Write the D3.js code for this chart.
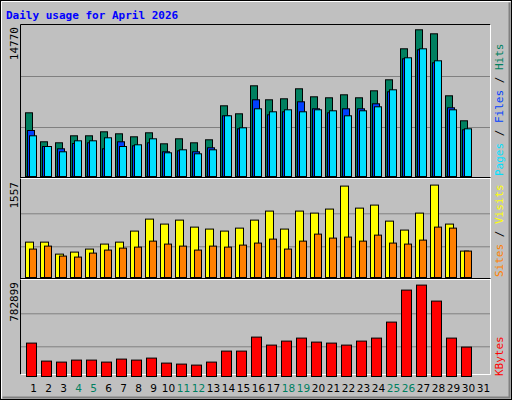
<!DOCTYPE html>
<html><head><meta charset="utf-8">
<script src="https://cdn.jsdelivr.net/npm/d3@7"></script>
<style>body{margin:0;background:#fff}svg{display:block}</style>
</head><body>
<script>
const days = d3.range(1,32);
const weekendDays = [4,5,11,12,18,19,25,26];
const hits  = [6413,3494,3393,4098,4098,4500,4299,3997,4400,3292,3796,3393,3695,7118,6313,9132,7722,7823,8830,8024,7924,8226,7924,8628,9736,12857,14770,14367,8125,5608];
const files = [4631,3020,2789,3322,3393,2789,3494,3091,3393,2487,2587,2487,2890,6111,4802,7722,6212,6514,7521,6816,6413,6816,6816,7319,8528,11850,12756,11447,6917,4702];
const pages = [4098,3020,2487,3594,3594,3896,3020,3192,3796,2386,2688,2285,2688,6111,4903,6816,6514,6715,6514,6715,6615,6111,6615,7017,8729,11951,12857,11649,6715,4802];
const visits= [596,596,394,428,479,563,596,782,984,900,967,849,816,782,832,967,1119,816,1119,1085,1153,1540,1169,1220,950,799,1085,1557,900,445];
const sites = [479,529,361,344,411,462,495,512,613,563,529,462,529,512,546,580,647,479,613,731,664,681,613,714,580,563,630,849,832,445];
const kbytes= [286091,131910,123345,140476,140476,123345,149041,140476,157607,114779,106213,97648,123345,217566,217566,337485,268960,303222,328919,294657,286091,268960,303222,328919,465969,740068,782899,645846,328919,251829];
const maxLabels = ["14770","1557","782899"];

const W=512,H=400;
const svg=d3.select("body").append("svg").attr("width",W).attr("height",H);
svg.append("rect").attr("width",W).attr("height",H).attr("fill","#c0c0c0");
// outer bevel
svg.append("rect").attr("x",0.5).attr("y",0.5).attr("width",W-1).attr("height",H-1).attr("fill","none").attr("stroke","#000");
svg.append("path").attr("d","M1.5,398.5V1.5H510.5").attr("stroke","#fff").attr("fill","none");
svg.append("path").attr("d","M2.5,397.5H509.5V2.5").attr("stroke","#808080").attr("stroke-width",2).attr("fill","none");

svg.append("text").attr("x",6).attr("y",19).text("Daily usage for April 2026")
  .attr("font-family","DejaVu Sans Mono").attr("font-weight","bold").attr("font-size",11).attr("fill","#0000ff");

const x = d3.scaleLinear().domain([1,2]).range([25,40]); // left edge of day slot
const L=20.5,R=490.5;
// plot frame (sunken)
svg.append("path").attr("d",`M${L},374.5V24.5H${R}`).attr("stroke","#000").attr("fill","none");
svg.append("path").attr("d",`M${L},374.5H${R}V24.5`).attr("stroke","#fff").attr("fill","none");
[178.5,279.5].forEach(y=>{
  svg.append("line").attr("x1",L).attr("x2",R).attr("y1",y-1).attr("y2",y-1).attr("stroke","#000");
  svg.append("line").attr("x1",L).attr("x2",R).attr("y1",y).attr("y2",y).attr("stroke","#fff");
});

const panels=[
 {base:176,top:29.3,max:14770,grid:[127,76],label:maxLabels[0],ly:27},
 {base:277,top:184.6,max:1557,grid:[246.3,213.3],label:maxLabels[1],ly:182},
 {base:376,top:284.6,max:782899,grid:[346.3,313.3],label:maxLabels[2],ly:282}
];
panels.forEach(p=>{
  p.y=d3.scaleLinear().domain([0,p.max]).range([p.base,p.top]);
  p.grid.forEach(g=>svg.append("line").attr("x1",21).attr("x2",490).attr("y1",g+0.5).attr("y2",g+0.5).attr("stroke","#808080"));
  svg.append("text").attr("transform",`translate(18,${p.ly}) rotate(-90)`).attr("text-anchor","end")
    .attr("font-family","DejaVu Sans Mono").attr("font-size",11).attr("fill","#000").text(p.label);
});

function bars(data,p,off,w,color){
  svg.append("g").selectAll("rect").data(data).join("rect")
    .attr("x",(d,i)=>x(i+1)+off+0.5).attr("width",w)
    .attr("y",d=>p.y(d)+0.5).attr("height",d=>p.base-p.y(d))
    .attr("fill",color).attr("stroke","#000");
}
bars(hits,panels[0],0,7,"#008060");
bars(files,panels[0],2,7,"#0040ff");
bars(pages,panels[0],4,7,"#00e0ff");
bars(visits,panels[1],0,8,"#ffff00");
bars(sites,panels[1],4,7,"#ff8000");
bars(kbytes,panels[2],1,10,"#ff0000");

svg.append("g").selectAll("text").data(days).join("text")
  .attr("x",d=>x(d)+8.5).attr("y",392).attr("text-anchor","middle")
  .attr("font-family","DejaVu Sans").attr("font-size",10.5)
  .attr("fill",d=>weekendDays.includes(d)?"#008060":"#000").text(d=>d);

function sideLabel(y,parts){
  const t=svg.append("text").attr("transform",`translate(503,${y}) rotate(-90)`)
    .attr("font-family","DejaVu Sans Mono").attr("font-size",11);
  parts.forEach(([s,c])=>t.append("tspan").attr("fill",c).text(s));
}
sideLabel(176,[["Pages","#00e0ff"],[" / ","#000"],["Files","#0040ff"],[" / ","#000"],["Hits","#008060"]]);
sideLabel(277,[["Sites","#ff8000"],[" / ","#000"],["Visits","#ffff00"]]);
sideLabel(376,[["KBytes","#ff0000"]]);
</script>
</body></html>
